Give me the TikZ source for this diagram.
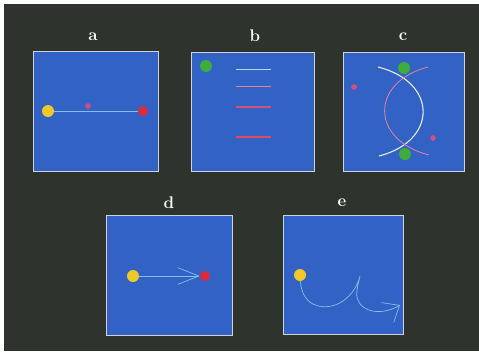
\documentclass[tikz,border=0pt]{standalone}
\definecolor{bgDark}{RGB}{46,51,45}
\definecolor{panelBlue}{RGB}{50,98,196}
\definecolor{panelEdge}{RGB}{205,210,220}
\definecolor{sunYellow}{RGB}{240,200,40}
\definecolor{dotRed}{RGB}{222,42,62}
\definecolor{dotGreen}{RGB}{62,172,62}
\definecolor{dotPink}{RGB}{214,78,128}
\definecolor{rayBlue}{RGB}{125,195,235}
\usepackage{tikz}
\usetikzlibrary{arrows.meta,positioning,calc}

\begin{document}
\begin{tikzpicture}[x=0.03cm,y=-0.03cm,
    panel/.style={draw=panelEdge,line width=0.8pt,fill=panelBlue,inner sep=0pt},
    lbl/.style={text=white,font=\Large\bfseries,inner sep=0pt},
    dot/.style={circle,inner sep=0pt,minimum size=#1},
    dot/.default=0.36cm,
    ray/.style={rayBlue,line width=0.6pt}]
        \useasboundingbox (0,0) rectangle (479,351);
        % Background
        \fill[white] (0,0) rectangle (479,351);
        \fill[bgDark] (4,4) rectangle (479,351);
        % Panels
        \node[panel,minimum width=3.75cm,minimum height=3.6cm] (pa) at (95.5,111) {};
        \node[panel,minimum width=3.69cm,minimum height=3.57cm] (pb) at (252.5,111.5) {};
        \node[panel,minimum width=3.63cm,minimum height=3.57cm] (pc) at (403.5,111.5) {};
        \node[panel,minimum width=3.78cm,minimum height=3.6cm] (pd) at (169,275) {};
        \node[panel,minimum width=3.6cm,minimum height=3.57cm] (pe) at (343,274.5) {};
        % Labels
        \node[lbl] (la) at (93,37) {a};
        \node[lbl] (lb) at (255,36) {b};
        \node[lbl] (lc) at (403,37) {c};
        \node[lbl] (ld) at (169,203) {d};
        \node[lbl] (le) at (342,203) {e};
        % Panel a
        \node[dot,fill=sunYellow] (ya) at (48,111) {};
        \node[dot=0.3cm,fill=dotRed] (ra) at (143,111) {};
        \node[dot=0.17cm,fill=dotPink] (ma) at (88,106) {};
        \draw[ray] (ya) -- (ra);
        % Panel b
        \node[dot,fill=dotGreen] (gb) at (206,66) {};
        \draw[rayBlue!60!white,line width=0.6pt] (236,69) -- (271,69);
        \draw[dotPink!70!white,line width=0.8pt] (236,86) -- (271,86);
        \draw[dotPink,line width=1.1pt] (236,107) -- (271,107);
        \draw[dotRed!85!white,line width=1.3pt] (236,137) -- (271,137);
        % Panel c
        \draw[white!90!panelBlue,line width=0.9pt] (378,67) .. controls (438,82) and (438,141) .. (379,156);
        \draw[dotPink!70!white,line width=0.7pt] (428,67) .. controls (370,82) and (370,140) .. (429,155);
        \node[dot,fill=dotGreen] (gc1) at (404,68) {};
        \node[dot,fill=dotGreen] (gc2) at (405,154) {};
        \node[dot=0.17cm,fill=dotPink] (mc1) at (354,87) {};
        \node[dot=0.17cm,fill=dotPink] (mc2) at (433,138) {};
        % Panel d
        \node[dot,fill=sunYellow] (yd) at (133,276) {};
        \node[dot=0.3cm,fill=dotRed] (rd) at (205,276) {};
        \draw[ray,-{Straight Barb[length=0.63cm,width=0.5cm]}] (yd) -- (rd);
        % Panel e
        \node[dot,fill=sunYellow] (ye) at (300,275) {};
        \coordinate (te) at (400,305);
        \draw[ray,-{Straight Barb[length=0.42cm,width=0.7cm]}] (ye)
          .. controls (302,305) and (320,310) .. (335,305)
          .. controls (350,300) and (358,285) .. (360,276)
          .. controls (358,285) and (355,295) .. (358,300)
          .. controls (362,312) and (382,316) .. (te);
\end{tikzpicture}
\end{document}
